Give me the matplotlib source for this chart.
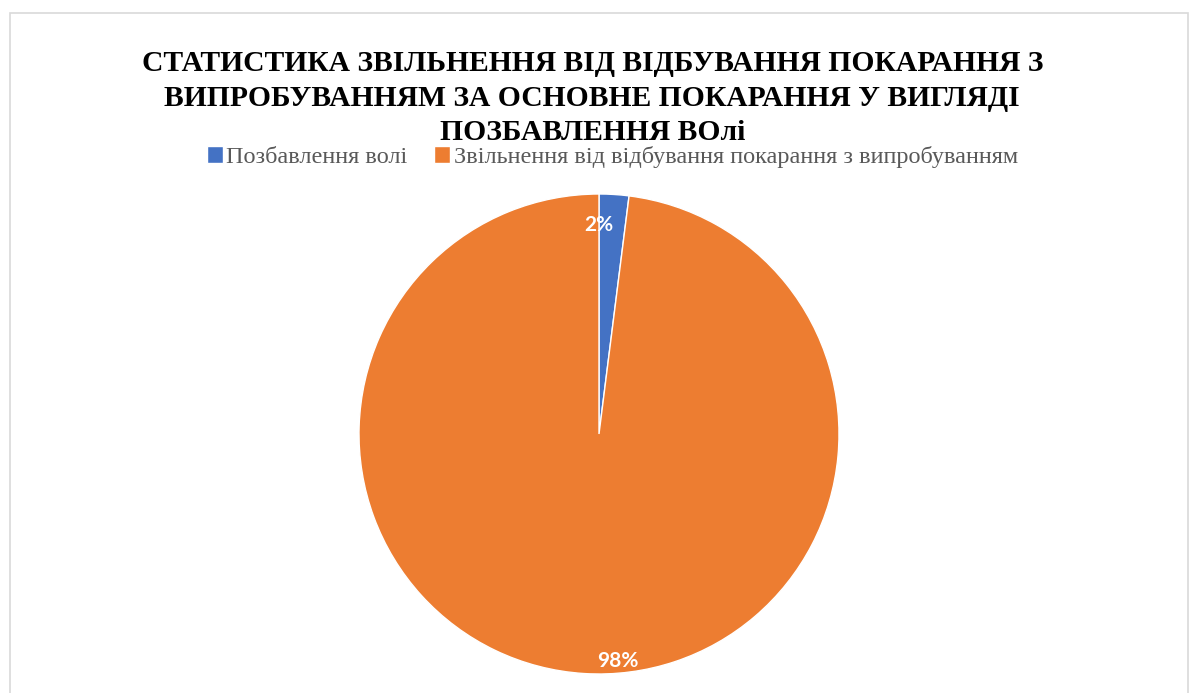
import matplotlib
matplotlib.use('Agg')
import matplotlib.pyplot as plt
from matplotlib.patches import Rectangle

# data
categories = ['Позбавлення волі', 'Звільнення від відбування покарання з випробуванням']
shares = [2, 98]
colors = ['#4472C4', '#ED7D31']
title = ('СТАТИСТИКА ЗВІЛЬНЕННЯ ВІД ВІДБУВАННЯ ПОКАРАННЯ З\n'
         'ВИПРОБУВАННЯМ ЗА ОСНОВНЕ ПОКАРАННЯ У ВИГЛЯДІ\n'
         'ПОЗБАВЛЕННЯ ВОлі')

W, H = 1194, 693
fig = plt.figure(figsize=(W / 100, H / 100), dpi=100)
fig.patch.set_facecolor('white')

# chart area frame
fig.patches.append(Rectangle((10 / W, -0.05), 1178 / W, 1.05 - 13 / H,
                             transform=fig.transFigure, fill=False,
                             edgecolor='#D9D9D9', linewidth=1.2))

ax = fig.add_axes([359 / W, 19 / H, 480 / W, 480 / H])
wedges, texts, autotexts = ax.pie(
    shares, colors=colors, startangle=90, counterclock=False,
    autopct='%1.0f%%', pctdistance=0.9,
    wedgeprops=dict(edgecolor='white', linewidth=1),
    textprops=dict(color='white', fontweight='bold', fontsize=15, family='Lato'))
ax.set_xlim(-1, 1)
ax.set_ylim(-1, 1)
ax.set_aspect('equal')

# labels sit near the outer edge, like the office-style "inside end" placement
autotexts[0].set_position((0.0, 0.87))
autotexts[1].set_position((0.08, -0.945))

fig.text(0.496, 1 - 98 / H, title, ha='center', va='center', fontsize=21.3,
         fontweight='bold', family='Liberation Serif', linespacing=1.38,
         color='black')

leg = fig.legend(wedges, categories, loc='center', bbox_to_anchor=(0.513, 1 - 157 / H),
                 ncol=2, frameon=False, handlelength=0.65, handleheight=0.65,
                 handletextpad=0.15, columnspacing=1.1,
                 prop=dict(family='Liberation Serif', size=17.5))
for t in leg.get_texts():
    t.set_color('#595959')

fig.savefig('out.png', dpi=100)
